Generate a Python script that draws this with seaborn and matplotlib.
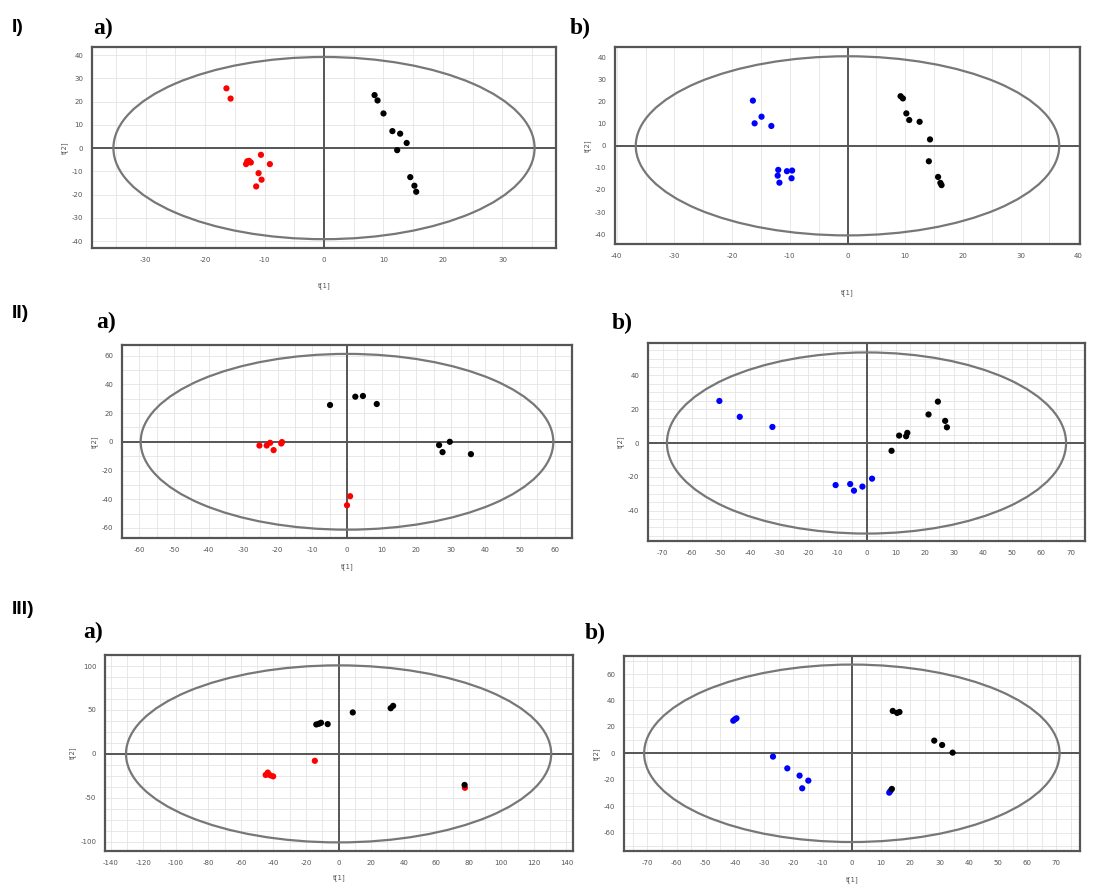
import numpy as np
import pandas as pd
import matplotlib
matplotlib.use("Agg")
import matplotlib.pyplot as plt
import seaborn as sns
from matplotlib.patches import Ellipse
from matplotlib.ticker import MultipleLocator

sns.set_style("white")
plt.rcParams['font.family'] = ['DejaVu Sans']

# ---------------- data (scores t[1], t[2]) ----------------
# Panel I a)
Ia_red_x = [-16.4, -15.7, -12.9, -13.1, -12.6, -12.3, -10.6, -9.1, -11.0, -10.5, -11.4]
Ia_red_y = [25.7, 21.3, -5.7, -6.9, -5.5, -6.2, -2.9, -6.9, -10.8, -13.6, -16.5]
Ia_blk_x = [8.5, 9.0, 10.0, 11.5, 12.8, 13.9, 12.3, 14.5, 15.2, 15.5]
Ia_blk_y = [22.8, 20.5, 14.9, 7.3, 6.2, 2.2, -0.9, -12.5, -16.2, -18.8]
# Panel I b)
Ib_blu_x = [-16.4, -16.1, -14.9, -13.2, -12.0, -12.1, -11.8, -10.5, -9.6, -9.7]
Ib_blu_y = [20.5, 10.2, 13.2, 9.0, -10.9, -13.5, -16.7, -11.5, -11.2, -14.7]
Ib_blk_x = [9.2, 9.6, 10.2, 10.7, 12.5, 14.3, 14.1, 15.7, 16.1, 16.3]
Ib_blk_y = [22.5, 21.5, 14.7, 11.7, 10.9, 2.9, -7.0, -14.1, -16.8, -17.8]
# Panel II a)
IIa_red_x = [-25.3, -23.2, -22.2, -21.2, -19.0, -18.8, 0.9, 0.0]
IIa_red_y = [-2.6, -2.6, -0.7, -5.8, -1.2, -0.2, -37.9, -44.2]
IIa_blk_x = [-4.9, 2.4, 4.6, 8.6, 26.6, 27.6, 29.7, 35.8]
IIa_blk_y = [25.6, 31.4, 31.9, 26.3, -2.3, -7.2, 0.0, -8.6]
# Panel II b)
IIb_blu_x = [-50.5, -43.5, -32.3, -10.6, -5.6, -4.3, -1.4, 1.9]
IIb_blu_y = [24.9, 15.5, 9.5, -24.9, -24.3, -28.2, -25.8, -21.1]
IIb_blk_x = [8.6, 11.2, 13.6, 14.0, 21.3, 24.5, 27.0, 27.6]
IIb_blk_y = [-4.6, 4.4, 4.0, 6.0, 16.9, 24.5, 13.1, 9.3]
# Panel III a)
IIIa_red_x = [-44.8, -43.5, -42.0, -40.2, -14.6, 77.6]
IIIa_red_y = [-24.0, -21.3, -24.4, -25.6, -7.9, -38.6]
IIIa_blk_x = [-13.7, -12.1, -10.8, -6.7, 8.7, 32.0, 33.5, 77.4]
IIIa_blk_y = [33.5, 34.3, 35.4, 33.9, 47.2, 52.0, 54.7, -35.4]
# Panel III b)
IIIb_blu_x = [-40.6, -40.0, -39.5, -27.0, -22.1, -17.9, -14.9, -17.0, 12.8, 13.2]
IIIb_blu_y = [24.7, 25.8, 26.5, -2.5, -11.4, -16.9, -20.7, -26.5, -29.8, -28.5]
IIIb_blk_x = [14.0, 15.5, 16.3, 28.2, 30.9, 34.5, 13.7]
IIIb_blk_y = [32.1, 30.6, 31.3, 9.6, 6.3, 0.5, -27.0]

W, H = 1099, 889
fig = plt.figure(figsize=(W / 100, H / 100), dpi=100)
fig.patch.set_facecolor("white")


def rect(l, t, r, b):
    return [l / W, 1 - b / H, (r - l) / W, (b - t) / H]


panels = [
    dict(r=rect(92, 47, 556, 248), a=(Ia_red_x, Ia_red_y, "#ff0000"), b=(Ia_blk_x, Ia_blk_y, "#000000"),
         ell=(35.4, 39.2), xl=(-39, 39), yl=(-43, 43.5), xmaj=10, xmin=5, ymaj=10, ymin=5,
         xt=(-30, 30), yt=(-40, 40), xlab_pad=14, ygrid="major"),
    dict(r=rect(615, 47, 1080, 244), a=(Ib_blu_x, Ib_blu_y, "#0000ff"), b=(Ib_blk_x, Ib_blk_y, "#000000"),
         ell=(36.7, 40.6), xl=(-40.3, 40.3), yl=(-44.5, 44.8), xmaj=10, xmin=5, ymaj=10, ymin=5,
         xt=(-40, 40), yt=(-40, 40), xlab_pad=22, ygrid="none"),
    dict(r=rect(122, 345, 572, 538), a=(IIa_red_x, IIa_red_y, "#ff0000"), b=(IIa_blk_x, IIa_blk_y, "#000000"),
         ell=(59.6, 61.2), xl=(-65, 65), yl=(-67, 67.4), xmaj=10, xmin=5, ymaj=20, ymin=10,
         xt=(-60, 60), yt=(-60, 60), xlab_pad=8, ygrid="both"),
    dict(r=rect(648, 343, 1085, 541), a=(IIb_blu_x, IIb_blu_y, "#0000ff"), b=(IIb_blk_x, IIb_blk_y, "#000000"),
         ell=(68.5, 53.6), xl=(-75, 75), yl=(-58, 59.2), xmaj=10, xmin=5, ymaj=20, ymin=5,
         xt=(-70, 70), yt=(-40, 40), xlab_pad=None, ygrid="both"),
    dict(r=rect(105, 655, 573, 851), a=(IIIa_red_x, IIIa_red_y, "#ff0000"), b=(IIIa_blk_x, IIIa_blk_y, "#000000"),
         ell=(130.6, 100.8), xl=(-143.5, 144), yl=(-110.6, 112.6), xmaj=20, xmin=10, ymaj=50, ymin=12.5,
         xt=(-140, 140), yt=(-100, 100), xlab_pad=6, ygrid="both"),
    dict(r=rect(624, 656, 1080, 851), a=(IIIb_blu_x, IIIb_blu_y, "#0000ff"), b=(IIIb_blk_x, IIIb_blk_y, "#000000"),
         ell=(71.1, 67.2), xl=(-78, 78.1), yl=(-74, 73.7), xmaj=10, xmin=5, ymaj=20, ymin=10,
         xt=(-70, 70), yt=(-60, 60), xlab_pad=8, ygrid="both"),
]

frame_col = "#555555"
grid_col = "#e4e4e4"
for p in panels:
    ax = fig.add_axes(p["r"])
    ax.set_facecolor("white")
    ax.set_xlim(*p["xl"])
    ax.set_ylim(*p["yl"])
    xs = np.arange(p["xt"][0], p["xt"][1] + 1e-9, p["xmaj"])
    ys = np.arange(p["yt"][0], p["yt"][1] + 1e-9, p["ymaj"])
    ax.set_xticks(xs)
    ax.set_yticks(ys)
    ax.set_xticklabels([f"{v:g}" for v in xs])
    ax.set_yticklabels([f"{v:g}" for v in ys])
    ax.xaxis.set_minor_locator(MultipleLocator(p["xmin"]))
    ax.yaxis.set_minor_locator(MultipleLocator(p["ymin"]))
    ax.grid(True, axis="x", which="both", color=grid_col, linewidth=0.6, zorder=0)
    if p["ygrid"] != "none":
        ax.grid(True, axis="y", which=p["ygrid"], color=grid_col, linewidth=0.6, zorder=0)
    ax.set_axisbelow(True)
    for s in ax.spines.values():
        s.set_color(frame_col)
        s.set_linewidth(1.6)
    ax.tick_params(which="both", direction="out", length=2.2, width=1.0, color="#333333",
                   labelsize=5, labelcolor="#555555", pad=4)

    ax.axhline(0, color="#555555", linewidth=1.4, zorder=1)
    ax.axvline(0, color="#555555", linewidth=1.4, zorder=1)
    a, b = p["ell"]
    ax.add_patch(Ellipse((0, 0), 2 * a, 2 * b, fill=False, edgecolor="#777777", linewidth=1.6, zorder=2))

    dfa = pd.DataFrame({"x": p["a"][0], "y": p["a"][1], "g": "A"})
    dfb = pd.DataFrame({"x": p["b"][0], "y": p["b"][1], "g": "B"})
    df = pd.concat([dfa, dfb], ignore_index=True)
    sns.scatterplot(data=df, x="x", y="y", hue="g", palette={"A": p["a"][2], "B": p["b"][2]},
                    s=20, linewidth=0, legend=False, ax=ax, zorder=3)
    if p["xlab_pad"] is not None:
        ax.set_xlabel("t[1]", fontsize=5, color="#555555", labelpad=p["xlab_pad"])
    else:
        ax.set_xlabel("")
    ax.set_ylabel("t[2]", fontsize=5, color="#555555", labelpad=3)

roman = dict(fontfamily="Liberation Sans", fontweight="bold", fontsize=14, color="black")
letter = dict(fontfamily="Liberation Serif", fontweight="bold", fontsize=17, color="black")


def txt(x, y, s, **kw):
    fig.text(x / W, 1 - y / H, s, va="center", ha="left", **kw)


txt(12, 28, "I)", **roman)
txt(93, 28, "a)", **letter)
txt(570, 28, "b)", **letter)
txt(12, 313, "II)", **roman)
txt(96, 322, "a)", **letter)
txt(612, 323, "b)", **letter)
txt(12, 609, "III)", **roman)
txt(83, 632, "a)", **letter)
txt(585, 633, "b)", **letter)

fig.savefig("out.png", dpi=100, facecolor="white")
